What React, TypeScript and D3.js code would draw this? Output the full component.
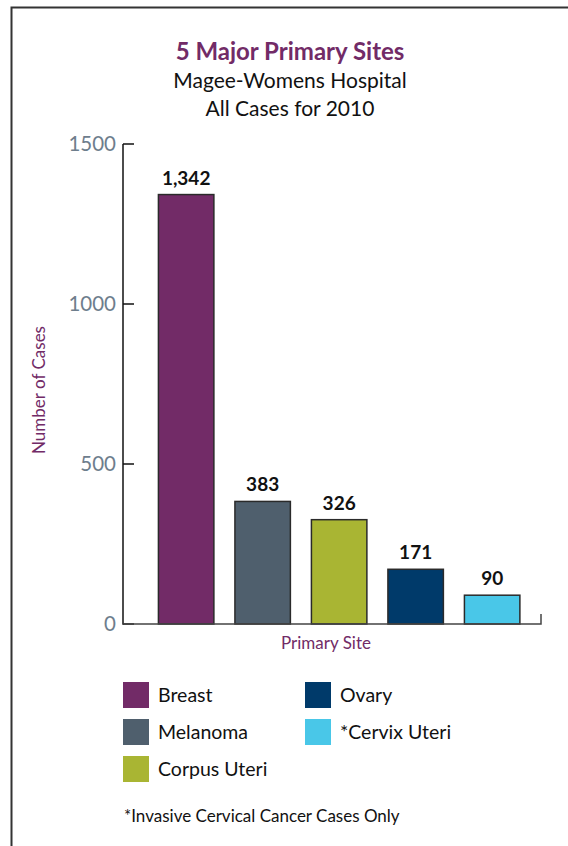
import React from "react";
import * as d3 from "d3";

const categories = ["Breast", "Melanoma", "Corpus Uteri", "Ovary", "*Cervix Uteri"];
const values = [1342, 383, 326, 171, 90];
const colors = ["#722B67", "#4F5F6D", "#A9B533", "#003A6A", "#49C7E8"];
const yTicks = [0, 500, 1000, 1500];
const titleLines = ["5 Major Primary Sites", "Magee-Womens Hospital", "All Cases for 2010"];
const footnote = "*Invasive Cervical Cancer Cases Only";

const W = 568;
const H = 846;
const FONT = "Lato, 'Open Sans', sans-serif";
const PURPLE = "#722B67";

export default function App() {
  const x = d3
    .scaleBand<string>()
    .domain(categories)
    .range([147.9, 530.4])
    .paddingInner(0.275)
    .paddingOuter(0.1375);
  const y = d3.scaleLinear().domain([0, 1500]).range([624, 144]);
  const axisX = 123;
  const axisRight = 541;
  const fmt = d3.format(",");

  const legendCols = [
    [0, 1, 2],
    [3, 4],
  ];
  const legendX = [123, 305];
  const legendY0 = 682;
  const legendStep = 37;
  const sw = 26;

  return (
    <svg
      width={W}
      height={H}
      style={{ position: "absolute", left: 0, top: 0, background: "#fff" }}
      fontFamily={FONT}
    >
      {/* frame */}
      <path d={`M11.5,${H} L11.5,7.5 L${W},7.5`} fill="none" stroke="#333" strokeWidth={2} />

      {/* titles */}
      <text x={290} y={60} textAnchor="middle" fontSize={24} fontWeight={700} fill={PURPLE}>
        {titleLines[0]}
      </text>
      <text x={290} y={88} textAnchor="middle" fontSize={21} fontWeight={400} fill="#111">
        {titleLines[1]}
      </text>
      <text x={290} y={116} textAnchor="middle" fontSize={21} fontWeight={400} fill="#111">
        {titleLines[2]}
      </text>

      {/* y ticks */}
      {yTicks.map((t) => (
        <g key={t}>
          <line x1={axisX} x2={axisX + 11} y1={y(t)} y2={y(t)} stroke="#111" strokeWidth={1.5} />
          <text
            x={axisX - 7}
            y={y(t)}
            dy="0.35em"
            textAnchor="end"
            fontSize={20.5}
            fontWeight={400}
            fill="#6E7E8D"
          >
            {t}
          </text>
        </g>
      ))}

      {/* bars */}
      {categories.map((c, i) => (
        <g key={c}>
          <rect
            x={x(c)!}
            y={y(values[i])}
            width={x.bandwidth()}
            height={y(0) - y(values[i])}
            fill={colors[i]}
            stroke="#2a2a2a"
            strokeWidth={1.5}
          />
          <text
            x={x(c)! + x.bandwidth() / 2}
            y={y(values[i]) - 10}
            textAnchor="middle"
            fontSize={19}
            fontWeight={700}
            fill="#111"
          >
            {fmt(values[i])}
          </text>
        </g>
      ))}

      {/* axes */}
      <line x1={axisX} x2={axisX} y1={y(1500)} y2={y(0) + 0.75} stroke="#111" strokeWidth={1.5} />
      <path
        d={`M${axisX},${y(0)} L${axisRight},${y(0)} L${axisRight},${y(0) - 10}`}
        fill="none"
        stroke="#444"
        strokeWidth={1.5}
      />

      {/* axis titles */}
      <text
        transform={`translate(45,390) rotate(-90)`}
        textAnchor="middle"
        fontSize={17}
        fill={PURPLE}
      >
        Number of Cases
      </text>
      <text x={326} y={649} textAnchor="middle" fontSize={17} fill={PURPLE}>
        Primary Site
      </text>

      {/* legend */}
      {legendCols.map((col, ci) =>
        col.map((idx, ri) => (
          <g key={idx} transform={`translate(${legendX[ci]},${legendY0 + ri * legendStep})`}>
            <rect width={sw} height={sw} fill={colors[idx]} />
            <text x={sw + 9} y={sw / 2} dy="0.36em" fontSize={19.5} fill="#111">
              {categories[idx]}
            </text>
          </g>
        ))
      )}

      <text x={124} y={822} fontSize={17} fill="#111">
        {footnote}
      </text>
    </svg>
  );
}
